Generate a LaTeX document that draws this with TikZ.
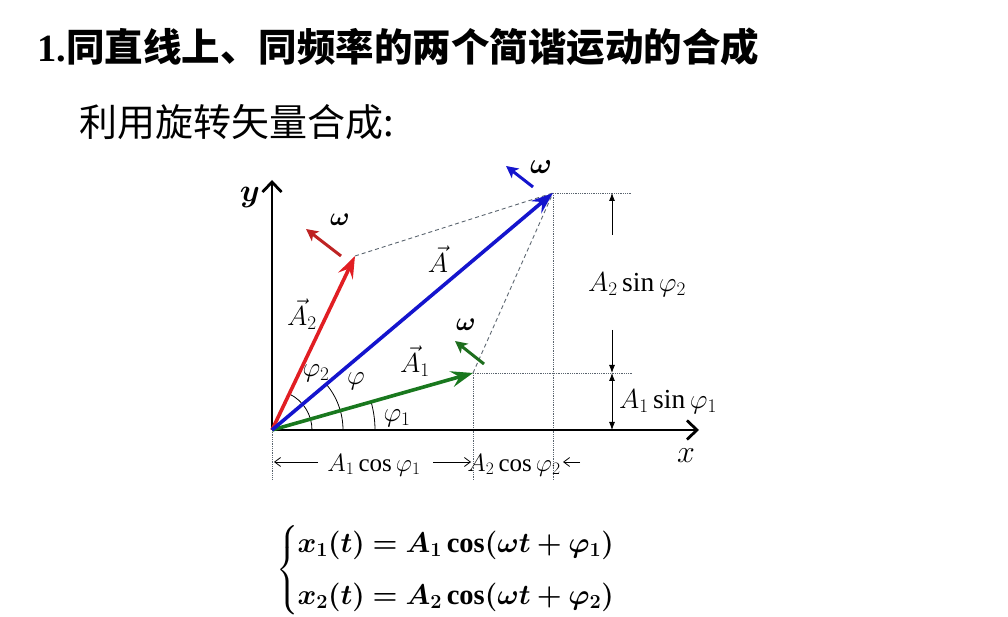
\RequirePackage{fix-cm}
\documentclass[tikz,border=0pt]{standalone}
\usepackage{amsmath}
\usepackage{bm}
\usepackage{fontspec}
\setmainfont{Liberation Serif}
\newfontfamily\cjk{Noto Sans CJK SC}
\usetikzlibrary{arrows.meta}

\definecolor{vecred}{RGB}{225,30,35}
\definecolor{vecblue}{RGB}{20,20,205}
\definecolor{vecgreen}{RGB}{25,120,30}
\definecolor{omgred}{RGB}{190,35,35}
\definecolor{omggreen}{RGB}{30,110,30}
\definecolor{guidegray}{RGB}{90,100,110}

\newcommand\labelsize{\fontsize{27.5}{31}\selectfont}
\newcommand\dimsize{\fontsize{25}{29}\selectfont}
\newcommand\eqsize{\fontsize{28.5}{34}\selectfont}

\begin{document}
\begin{tikzpicture}[x=1pt,y=1pt,
	vecline/.style={line width=3.6pt,-{Stealth[length=22pt,width=16pt,inset=8pt]}},
	omgline/.style={line width=3pt,-{Stealth[length=12pt,width=12pt,inset=3pt]}},
	axisline/.style={line width=2.8pt,-{Straight Barb[length=10pt,width=19pt]}},
	dimline/.style={line width=0.8pt,-{Latex[length=8pt,width=6pt]}},
	dimopen/.style={line width=0.8pt,-{Straight Barb[length=6pt,width=9pt]}},
	dashline/.style={guidegray,line width=0.9pt,dash pattern=on 4pt off 3pt},
	dotline/.style={guidegray,line width=0.8pt,densely dotted}]
	
	\useasboundingbox (0,0) rectangle (1008,617);
	
	% titles
	\node[anchor=west] (title) at (34,570) {\fontsize{38.5}{41}\selectfont\textbf{1.}\cjk\bfseries 同直线上、同频率的两个简谐运动的合成};
	\node[anchor=west] (subtitle) at (76,495) {\fontsize{38}{40}\selectfont\cjk 利用旋转矢量合成:};
	
	% points
	\coordinate (o) at (272,187);
	\coordinate (xend) at (699,187);
	\coordinate (yend) at (272,437);
	\coordinate (a1) at (473,244);
	\coordinate (a2) at (355,361);
	\coordinate (a) at (553,424);
	
	% guide lines
	\path[dashline] (a2) edge (a);
	\path[dashline] (a1) edge (a);
	\coordinate (a1r) at (632,244);
	\coordinate (ar) at (632,424);
	\coordinate (ob) at (272,137);
	\coordinate (a1b) at (473,137);
	\coordinate (ab) at (553,137);
	\path[dotline] (a1) edge (a1r);
	\path[dotline] (a) edge (ar);
	\path[dotline] (o) edge (ob);
	\path[dotline] (a1) edge (a1b);
	\path[dotline] (a) edge (ab);
	
	% axes
	\path[axisline] (o) edge (xend);
	\path[axisline] (o) edge (yend);
	
	% angles
	\draw[line width=0.8pt] ([xshift=40pt]o) arc[start angle=0,end angle=64.5,radius=40];
	\draw[line width=0.8pt] ([xshift=71pt]o) arc[start angle=0,end angle=40.1,radius=71];
	\draw[line width=0.8pt] ([xshift=103pt]o) arc[start angle=0,end angle=15.8,radius=103];
	
	% vectors
	\path[vecline,vecred] (o) edge (a2);
	\path[vecline,vecgreen] (o) edge (a1);
	\path[vecline,vecblue] (o) edge (a);
	
	% rotation arrows
	\coordinate (w2s) at (341,361);
	\coordinate (w2e) at (306,388);
	\coordinate (ws) at (533,430);
	\coordinate (we) at (506,451);
	\coordinate (w1s) at (484,253);
	\coordinate (w1e) at (455,276);
	\path[omgline,omgred] (w2s) edge (w2e);
	\path[omgline,vecblue] (ws) edge (we);
	\path[omgline,omggreen] (w1s) edge (w1e);
	\node (w2lab) at (340,397) {\fontsize{26}{30}\selectfont$\bm{\omega}$};
	\node (wlab) at (541,450) {\fontsize{29}{32}\selectfont$\bm{\omega}$};
	\node (w1lab) at (466,292) {\fontsize{26}{30}\selectfont$\bm{\omega}$};
	
	% vertical dimensions
	\coordinate (d1) at (612,382);
	\coordinate (d2) at (612,424);
	\coordinate (d3) at (612,287);
	\coordinate (d4) at (612,244);
	\coordinate (d5) at (612,187);
	\path[dimline] (d1) edge (d2);
	\path[dimline] (d3) edge (d4);
	\path[dimline,{Latex[length=8pt,width=6pt]}-{Latex[length=8pt,width=6pt]}] (d4) edge (d5);
	\node (s2lab) at (637,332) {\labelsize$A_2\sin\varphi_2$};
	\node (s1lab) at (668,215) {\labelsize$A_1\sin\varphi_1$};
	
	% horizontal dimensions
	\coordinate (h1) at (318,155);
	\coordinate (h2) at (274,155);
	\coordinate (h3) at (433,155);
	\coordinate (h4) at (471,155);
	\coordinate (h5) at (580,155);
	\coordinate (h6) at (563,155);
	\path[dimopen] (h1) edge (h2);
	\path[dimopen] (h3) edge (h4);
	\path[dimopen] (h5) edge (h6);
	\node (c1lab) at (374,152) {\dimsize$A_1\cos\varphi_1$};
	\node (c2lab) at (514,152) {\dimsize$A_2\cos\varphi_2$};
	
	% labels
	\node (ylab) at (250,419) {\fontsize{32}{34}\selectfont$\bm{y}$};
	\node (xlab) at (686,161) {\fontsize{32}{34}\selectfont$x$};
	\node (alab) at (438,358) {\labelsize$\vec{A}$};
	\node (a2lab) at (302,303) {\labelsize$\vec{A}_2$};
	\node (a1lab) at (415,256) {\labelsize$\vec{A}_1$};
	\node (p2lab) at (316,244) {\labelsize$\varphi_2$};
	\node (plab) at (356,236) {\labelsize$\varphi$};
	\node (p1lab) at (397,199) {\labelsize$\varphi_1$};
	
	% equations
	\node[anchor=west] (eq1) at (294,72) {\eqsize$\bm{x_1}\bm{(}\bm{t}\bm{)}\bm{=}\bm{A_1}\,\mathbf{cos}\bm{(}\bm{\omega}\bm{t}\bm{+}\bm{\varphi_1}\bm{)}$};
	\node[anchor=west] (eq2) at (294,20) {\eqsize$\bm{x_2}\bm{(}\bm{t}\bm{)}\bm{=}\bm{A_2}\,\mathbf{cos}\bm{(}\bm{\omega}\bm{t}\bm{+}\bm{\varphi_2}\bm{)}$};
	\node (brace) at (288,46) {\eqsize$\left\{\vrule height 40pt depth 40pt width 0pt\right.$};
	
\end{tikzpicture}
\end{document}
